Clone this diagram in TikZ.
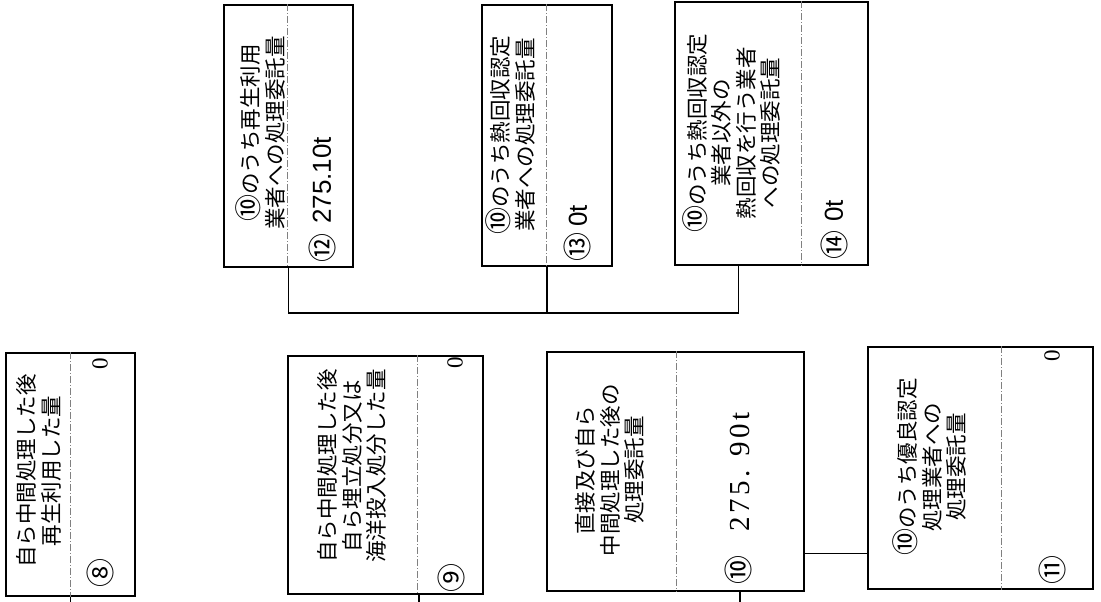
\documentclass[tikz,border=0pt]{standalone}
\usepackage{fontspec}
\setmainfont{Noto Sans CJK JP}
\newfontfamily\valfont{Liberation Sans}
\newfontfamily\numfont[LetterSpace=12]{Liberation Serif}
\newfontfamily\zerofont{Liberation Serif}
\newcommand{\refnum}[1]{\smash{\fontsize{27}{27}\selectfont #1}}
\usetikzlibrary{calc}

\begin{document}
\begin{tikzpicture}[x=1pt,y=-1pt]
    \tikzstyle{every node}+=[inner sep=0pt]
    \tikzstyle{box}=[draw=black, line width=1.4pt, rectangle]
    \tikzstyle{divider}=[black!50, line width=0.6pt, dash pattern=on 7pt off 2pt on 1pt off 2pt]
    \tikzstyle{link}=[black, line width=1.4pt]
    \tikzstyle{title}=[rotate=90, align=center, font=\fontsize{21.5}{24.5}\selectfont]
    \tikzstyle{circnum}=[rotate=90, font=\fontsize{29}{29}\selectfont]
    \tikzstyle{amount}=[rotate=90, anchor=west, font=\valfont\fontsize{26}{26}\selectfont]
    \tikzstyle{zero}=[rotate=90, font=\zerofont\fontsize{23}{23}\selectfont]
    \useasboundingbox (0,0) rectangle (1101,602);
    % lower row
    \node [box, minimum width=129pt, minimum height=243pt] (b8) at (70.5,474.5) {};
    \node [box, minimum width=195pt, minimum height=238pt] (b9) at (385.5,475) {};
    \node [box, minimum width=257pt, minimum height=239pt] (b10) at (675.5,471.5) {};
    \node [box, minimum width=225pt, minimum height=242pt] (b11) at (980.5,468) {};
    % upper row
    \node [box, minimum width=129pt, minimum height=262pt] (b12) at (288.5,136) {};
    \node [box, minimum width=130pt, minimum height=261pt] (b13) at (547,135.5) {};
    \node [box, minimum width=193pt, minimum height=263pt] (b14) at (771.5,133.5) {};
    % dashed dividers
    \draw [divider] ($(b8.north west)+(65,0)$) -- ($(b8.south west)+(65,0)$);
    \draw [divider] ($(b9.north west)+(130,0)$) -- ($(b9.south west)+(130,0)$);
    \draw [divider] ($(b10.north west)+(130,0)$) -- ($(b10.south west)+(130,0)$);
    \draw [divider] ($(b11.north west)+(134,0)$) -- ($(b11.south west)+(134,0)$);
    \draw [divider] ($(b12.north west)+(64,0)$) -- ($(b12.south west)+(64,0)$);
    \draw [divider] ($(b13.north west)+(65,0)$) -- ($(b13.south west)+(65,0)$);
    \draw [divider] ($(b14.north west)+(127,0)$) -- ($(b14.south west)+(127,0)$);
    % titles
    \node [title] (t8) at (39,471) {自ら中間処理した後\\再生利用した量};
    \node [title] (t9) at (352,466) {自ら中間処理した後\\自ら埋立処分又は\\海洋投入処分した量};
    \node [title] (t10) at (610,470) {直接及び自ら\\中間処理した後の\\処理委託量};
    \node [title] (t11) at (932,467) {\refnum{⑩}のうち優良認定\\処理業者への\\処理委託量};
    \node [title] (t12) at (263,133) {\refnum{⑩}のうち再生利用\\業者への処理委託量};
    \node [title] (t13) at (513,135) {\refnum{⑩}のうち熱回収認定\\業者への処理委託量};
    \node [title] (t14) at (734,133) {\refnum{⑩}のうち熱回収認定\\業者以外の\\熱回収を行う業者\\への処理委託量};
    % numbers and amounts
    \node [circnum] (n8) at (100,573) {⑧};
    \node [zero] (v8) at (100,364) {0};
    \node [circnum] (n9) at (451,578) {⑨};
    \node [zero] (v9) at (455,363) {0};
    \node [circnum] (n10) at (738,570) {⑩};
    \node [rotate=90, font=\numfont\fontsize{29}{29}\selectfont] (v10) at (740,472) {275. 90t};
    \node [circnum] (n11) at (1052,570) {⑪};
    \node [zero] (v11) at (1052,356) {0};
    \node [circnum] (n12) at (322,248) {⑫};
    \node [amount] (v12) at (322,224) {275.10t};
    \node [circnum] (n13) at (577,247) {⑬};
    \node [amount] (v13) at (578,227) {0t};
    \node [circnum] (n14) at (834,245) {⑭};
    \node [amount] (v14) at (834,222) {0t};
    % connectors
    \coordinate (bus) at (0,313);
    \coordinate (bottom) at (0,602);
    \coordinate (f14) at ($(b14.south west)!0.33!(b14.south east)$);
    \draw [link] (b12.south) |- (bus -| f14) -- (f14);
    \draw [link] (b13.south) -- (b13.south |- bus);
    \coordinate (e10) at ($(b10.north east)!0.84!(b10.south east)$);
    \draw [link] (e10) -- (e10 -| b11.west);
    \draw [link] (b8.south) -- (b8.south |- bottom);
    \coordinate (f9) at ($(b9.south west)!0.67!(b9.south east)$);
    \draw [link] (f9) -- (f9 |- bottom);
    \coordinate (f10) at ($(b10.south west)!0.75!(b10.south east)$);
    \draw [link] (f10) -- (f10 |- bottom);
\end{tikzpicture}
\end{document}
